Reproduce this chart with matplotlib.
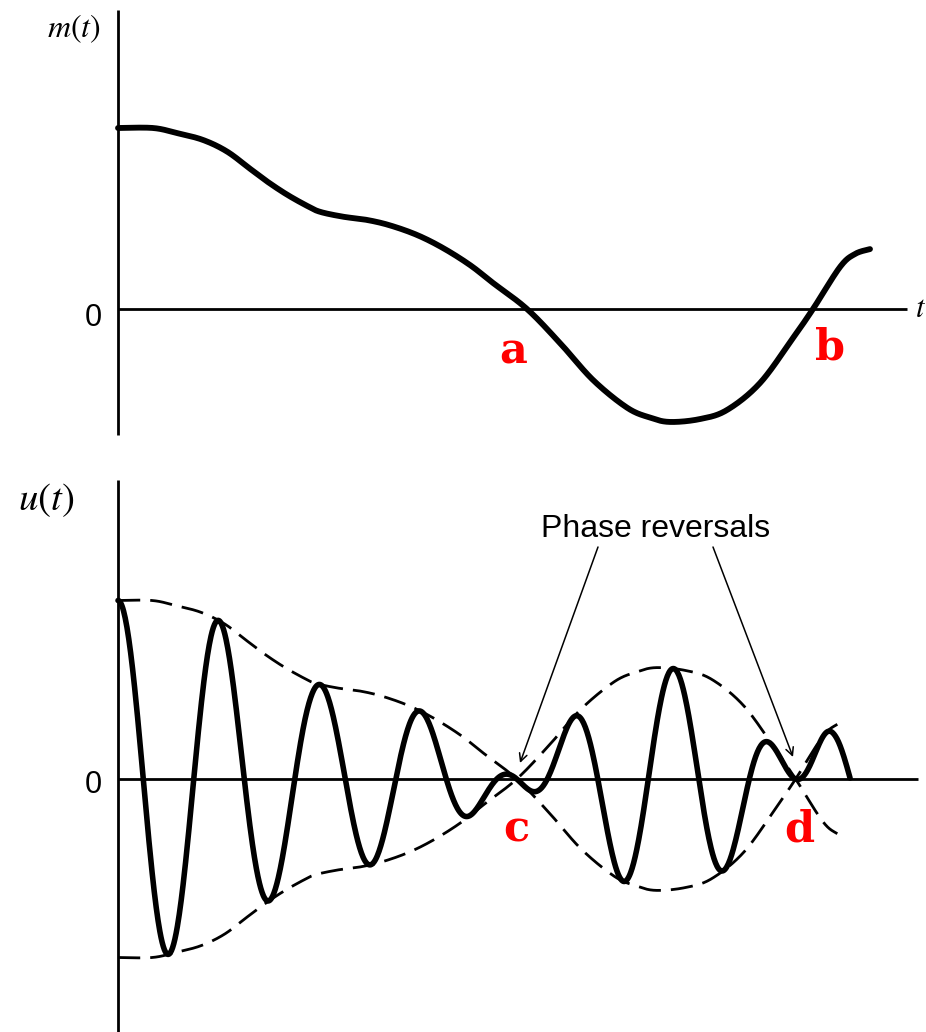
import numpy as np
import matplotlib
matplotlib.use('Agg')
import matplotlib.pyplot as plt
from matplotlib.patches import FancyArrowPatch

plt.rcParams['mathtext.fontset'] = 'stix'

# message signal m(t) sampled along the time axis
m_t = [0.000, 0.0875, 0.1475, 0.2125, 0.2725, 0.330, 0.3725, 0.4225, 0.4725, 0.505,
       0.5625, 0.6225, 0.680, 0.7475, 0.8125, 0.880, 0.9375, 1.0225, 1.105, 1.1875,
       1.2725, 1.330, 1.380, 1.455, 1.5225, 1.605, 1.6875, 1.7375, 1.805, 1.8425, 1.880]
m_vals = [1.00, 1.00, 0.972, 0.934, 0.870, 0.775, 0.705, 0.632, 0.570, 0.537,
          0.510, 0.492, 0.462, 0.409, 0.337, 0.243, 0.144, 0.0, -0.188, -0.392,
          -0.545, -0.600, -0.624, -0.608, -0.558, -0.409, -0.160, 0.0, 0.232, 0.304, 0.331]

# carrier period (same time units) and how many carrier periods are drawn
carrier_period = 0.259
n_periods = 7.25
env_end = 1.845          # dashed envelope stops here

top_labels = ['a', 'b']
bot_labels = ['c', 'd']
note = 'Phase reversals'


def smooth_curve(xs, ys, n=40):
    # draw a smooth path through the samples (Catmull-Rom as cubic Bezier pieces)
    P = np.column_stack([xs, ys])
    Pp = np.vstack([P[0], P, P[-1]])
    tang = (Pp[2:] - Pp[:-2]) / 2
    s = np.linspace(0, 1, n, endpoint=False)[:, None]
    pts = []
    for i in range(len(P) - 1):
        p0, p3 = P[i], P[i + 1]
        p1 = p0 + tang[i] / 3
        p2 = p3 - tang[i + 1] / 3
        pts.append((1 - s) ** 3 * p0 + 3 * (1 - s) ** 2 * s * p1
                   + 3 * (1 - s) * s ** 2 * p2 + s ** 3 * p3)
    pts.append(P[-1:])
    pts = np.vstack(pts)
    return pts[:, 0], pts[:, 1]


W, H = 926, 1032
fig = plt.figure(figsize=(W / 100, H / 100), dpi=100)


def fx(x):
    return x / W


def fy(y):
    return 1 - y / H


line_kw = dict(color='black', clip_on=False, solid_capstyle='round', solid_joinstyle='round')
axis_kw = dict(color='black', lw=2, clip_on=False, solid_capstyle='butt')

# ---- top panel: m(t)
top = fig.add_axes([118 / W, 1 - 435 / H, 800 / W, 425 / H])
top.set_xlim(0, 2.0)
top.set_ylim(-126 / 181, 299 / 181)
top.axis('off')
ylo, yhi = top.get_ylim()
top.plot([0, 0], [ylo, yhi], **axis_kw)
top.plot([0, 1.9725], [0, 0], **axis_kw)

mx, my = smooth_curve(m_t, m_vals)
top.plot(mx, my, lw=4.2, **line_kw)

# ---- bottom panel: u(t) = m(t) cos(wc t)
bot = fig.add_axes([118 / W, 0, 800 / W, 552 / H])
bot.set_xlim(0, 800 / 390)
bot.set_ylim(-253 / 178.5, 299 / 178.5)
bot.axis('off')
ylo, yhi = bot.get_ylim()
bot.plot([0, 0], [ylo, yhi], **axis_kw)
bot.plot([0, 800 / 390], [0, 0], **axis_kw)

keep_u = mx <= n_periods * carrier_period
u = my * np.cos(2 * np.pi * mx / carrier_period)
bot.plot(mx[keep_u], u[keep_u], lw=4, **line_kw)

keep_env = mx <= env_end
for sign in (1, -1):
    bot.plot(mx[keep_env], sign * my[keep_env], color='black', lw=2,
             linestyle=(0, (8, 3.6)), clip_on=False)

# ---- text
fig.text(fx(74), fy(37), '$m(t)$', fontsize=23, ha='center', va='baseline')
fig.text(fx(18), fy(510), '$u(t)$', fontsize=28, ha='left', va='baseline')
fig.text(fx(915), fy(317), '$t$', fontsize=22, ha='left', va='baseline')
fig.text(fx(93), fy(326), '0', fontsize=22, family='Liberation Sans',
         ha='center', va='baseline')
fig.text(fx(93), fy(793), '0', fontsize=22, family='Liberation Sans',
         ha='center', va='baseline')

red = dict(color='red', fontsize=31, fontweight='bold', family='DejaVu Serif',
           ha='center', va='baseline')
fig.text(fx(513), fy(363), top_labels[0], **red)
fig.text(fx(830), fy(360), top_labels[1], **red)
fig.text(fx(516), fy(842), bot_labels[0], **red)
fig.text(fx(799), fy(842), bot_labels[1], **red)

fig.text(fx(656), fy(537), note, fontsize=23, family='Liberation Sans',
         ha='center', va='baseline')
arrow = dict(arrowstyle='->', lw=1.1, color='black', shrinkA=0, shrinkB=0,
             mutation_scale=14, transform=fig.transFigure)
fig.add_artist(FancyArrowPatch((fx(598), fy(547)), (fx(520), fy(763)), **arrow))
fig.add_artist(FancyArrowPatch((fx(713), fy(547)), (fx(793), fy(757)), **arrow))

fig.savefig('out.png', dpi=100)
